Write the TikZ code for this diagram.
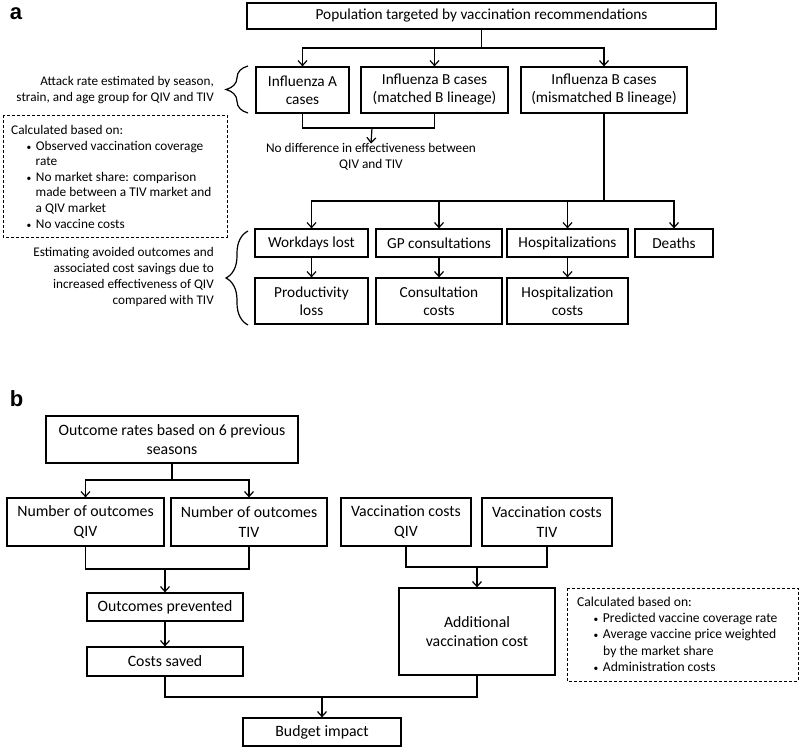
\documentclass[tikz,border=0pt]{standalone}
\usepackage{fontspec}
\setmainfont{Carlito}
\newfontfamily\lblfont{Liberation Sans}
\usetikzlibrary{arrows.meta,decorations.pathreplacing}
\newcommand{\smbul}{{\fontsize{9.5}{9.5}\selectfont\textbullet}}
\begin{document}
\begin{tikzpicture}[x=1pt,y=-1pt,
  every node/.style={font=\fontsize{13.2}{16}\selectfont},
  box/.style={draw, line width=1.2pt, inner sep=0pt, align=center, font=\fontsize{15.3}{18}\selectfont},
  boxb/.style={box, font=\fontsize{15.8}{19.5}\selectfont},
  conn/.style={line width=1.2pt},
  arr/.style={line width=1.2pt, -{Straight Barb[length=5pt,width=9pt,line width=1.2pt]}},
  brc/.style={line width=1.2pt, decorate, decoration={brace, amplitude=22pt, aspect=0.5}},
  dbox/.style={draw, line width=0.9pt, densely dashed},
  note/.style={inner sep=0pt, font=\fontsize{13.2}{16}\selectfont},
  lbl/.style={font=\fontsize{22}{22}\selectfont\lblfont\bfseries, inner sep=0pt}
]
\useasboundingbox (0,0) rectangle (800,749);
\node[lbl] (la) at (16,14) {a};
\node[lbl] (lb) at (16.5,399) {b};

% ---------- panel a ----------
\node[box, minimum width=469pt, minimum height=26pt] (top) at (481.5,16) {Population targeted by vaccination recommendations};
\node[box, minimum width=93pt, minimum height=46pt] (infA) at (302.5,90) {Influenza A\\cases};
\node[box, minimum width=147pt, minimum height=46pt] (infBm) at (434.5,90) {Influenza B cases\\(matched B lineage)};
\node[box, minimum width=166pt, minimum height=46pt] (infBmm) at (604,90) {Influenza B cases\\(mismatched B lineage)};

\coordinate (j1) at (481.5,48);
\draw[conn] (top.south) -- (j1);
\draw[arr] (j1) -| (infA.north);
\draw[arr] (j1) -| (infBm.north);
\draw[arr] (j1) -| (infBmm.north);

\coordinate (j2) at (372,128);
\draw[conn] (infA.south) |- (j2) -| (infBm.south);
\node[note, anchor=north, align=center, font=\fontsize{13.3}{15.5}\selectfont] (nodiff) at (371,143.5) {No difference in effectiveness between\\QIV and TIV};
\draw[arr] (j2) -- (nodiff.north);

\draw[brc] (248,113) -- (248,66);
\node[note, anchor=east, align=right] (attack) at (214,90) {Attack rate estimated by season,\\strain, and age group for QIV and TIV};

\draw[dbox] (3,115) rectangle (227,237);
\node[note, anchor=north west, align=left, font=\fontsize{13.3}{15.6}\selectfont] (calcA) at (11,125) {Calculated based on:\\
\hspace*{15.5pt}\smbul\hspace{4.5pt}Observed vaccination coverage\\
\hspace*{24.5pt}rate\\
\hspace*{15.5pt}\smbul\hspace{4.5pt}No market share: comparison\\
\hspace*{24.5pt}made between a TIV market and\\
\hspace*{24.5pt}a QIV market\\
\hspace*{15.5pt}\smbul\hspace{4.5pt}No vaccine costs};

\node[box, minimum width=113pt, minimum height=28pt] (work) at (311.5,243) {Workdays lost};
\node[box, minimum width=126pt, minimum height=28pt] (gp) at (439,243) {GP consultations};
\node[box, minimum width=121pt, minimum height=28pt] (hosp) at (567.5,243) {Hospitalizations};
\node[box, minimum width=78pt, minimum height=28pt] (deaths) at (674,243) {Deaths};
\node[box, minimum width=113pt, minimum height=46pt] (prod) at (311.5,301) {Productivity\\loss};
\node[box, minimum width=126pt, minimum height=46pt] (cons) at (439,301) {Consultation\\costs};
\node[box, minimum width=121pt, minimum height=46pt] (hospc) at (567.5,301) {Hospitalization\\costs};

\coordinate (j3) at (604,201);
\draw[conn] (infBmm.south) -- (j3);
\draw[arr] (j3) -| (work.north);
\draw[arr] (j3) -| (gp.north);
\draw[arr] (j3) -| (hosp.north);
\draw[arr] (j3) -| (deaths.north);
\draw[arr] (work.south) -- (prod.north);
\draw[arr] (gp.south) -- (cons.north);
\draw[arr] (hosp.south) -- (hospc.north);

\draw[brc] (248,325) -- (248,231);
\node[note, anchor=east, align=right, font=\fontsize{13.2}{16.3}\selectfont] (estim) at (214,277) {Estimating avoided outcomes and\\associated cost savings due to\\increased effectiveness of QIV\\compared with TIV};

% ---------- panel b ----------
\node[boxb, minimum width=252pt, minimum height=47pt] (orates) at (172,439.5) {Outcome rates based on 6 previous\\seasons};
\node[boxb, minimum width=157pt, minimum height=48pt] (noq) at (85.5,522) {Number of outcomes\\QIV};
\node[boxb, minimum width=156pt, minimum height=48pt] (not) at (249,522) {Number of outcomes\\TIV};
\node[boxb, minimum width=130pt, minimum height=48pt] (vcq) at (406,522) {Vaccination costs\\QIV};
\node[boxb, minimum width=130pt, minimum height=48pt] (vct) at (547,522) {Vaccination costs\\TIV};
\node[boxb, minimum width=156pt, minimum height=28pt] (prev) at (165,607) {Outcomes prevented};
\node[boxb, minimum width=156pt, minimum height=29pt] (saved) at (165,661.5) {Costs saved};
\node[boxb, minimum width=156pt, minimum height=87pt] (addc) at (477,631.5) {Additional\\vaccination cost};
\node[boxb, minimum width=158pt, minimum height=28pt] (budget) at (322,732) {Budget impact};

\coordinate (k1) at (172,480);
\draw[conn] (orates.south) -- (k1);
\draw[arr] (k1) -| (noq.north);
\draw[arr] (k1) -| (not.north);

\coordinate (k2) at (165,569);
\draw[conn] (noq.south) |- (k2) -| (not.south);
\draw[arr] (k2) -- (prev.north);
\draw[arr] (prev.south) -- (saved.north);

\coordinate (k3) at (477,567);
\draw[conn] (vcq.south) |- (k3) -| (vct.south);
\draw[arr] (k3) -- (addc.north);

\coordinate (k4) at (322,697);
\draw[conn] (saved.south) |- (k4) -| (addc.south);
\draw[arr] (k4) -- (budget.north);

\draw[dbox] (567,588) rectangle (798,681);
\node[note, anchor=north west, align=left, font=\fontsize{13.6}{16.3}\selectfont] (calcB) at (577,596.5) {Calculated based on:\\
\hspace*{16.5pt}\smbul\hspace{4.5pt}Predicted vaccine coverage rate\\
\hspace*{16.5pt}\smbul\hspace{4.5pt}Average vaccine price weighted\\
\hspace*{26pt}by the market share\\
\hspace*{16.5pt}\smbul\hspace{4.5pt}Administration costs};
\end{tikzpicture}
\end{document}
